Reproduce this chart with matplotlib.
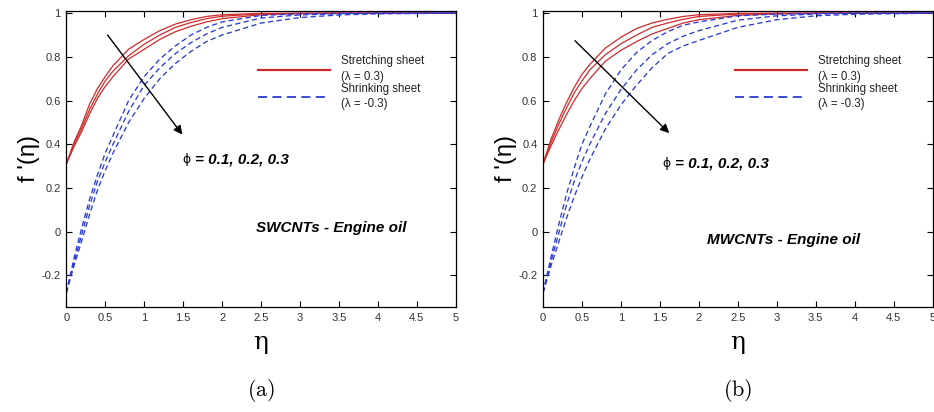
import matplotlib
matplotlib.use("Agg")
import matplotlib.pyplot as plt
from matplotlib.lines import Line2D

plt.rcParams['mathtext.fontset'] = 'cm'

# similarity variable
eta = [0, 0.1, 0.2, 0.3, 0.4, 0.5, 0.6, 0.8, 1.0, 1.2, 1.4, 1.6, 1.8, 2.0, 2.5, 3.0, 3.5, 4.0, 5.0]
phis = [0.1, 0.2, 0.3]

# f'(eta), SWCNTs - engine oil (one row per phi)
sw_stretch = [
    [0.31, 0.41, 0.49, 0.585, 0.655, 0.71, 0.76, 0.835, 0.88, 0.92, 0.95, 0.97, 0.985, 0.993, 0.999, 1.0, 1.0, 1.0, 1.0],
    [0.31, 0.40, 0.475, 0.56, 0.63, 0.69, 0.735, 0.805, 0.858, 0.90, 0.935, 0.957, 0.975, 0.986, 0.997, 0.999, 1.0, 1.0, 1.0],
    [0.31, 0.39, 0.46, 0.54, 0.61, 0.665, 0.71, 0.79, 0.835, 0.88, 0.915, 0.94, 0.96, 0.975, 0.993, 0.998, 0.999, 1.0, 1.0],
]
sw_shrink = [
    [-0.28, -0.12, 0.02, 0.15, 0.26, 0.36, 0.44, 0.60, 0.71, 0.79, 0.85, 0.90, 0.935, 0.96, 0.99, 0.997, 0.999, 1.0, 1.0],
    [-0.28, -0.14, -0.01, 0.12, 0.23, 0.32, 0.40, 0.55, 0.67, 0.75, 0.815, 0.865, 0.905, 0.935, 0.978, 0.992, 0.997, 0.999, 1.0],
    [-0.28, -0.155, -0.04, 0.08, 0.19, 0.28, 0.36, 0.50, 0.61, 0.70, 0.77, 0.825, 0.87, 0.90, 0.955, 0.98, 0.992, 0.997, 1.0],
]

# f'(eta), MWCNTs - engine oil
mw_stretch = [
    [0.31, 0.42, 0.51, 0.59, 0.66, 0.72, 0.765, 0.84, 0.89, 0.93, 0.955, 0.972, 0.985, 0.993, 0.999, 1.0, 1.0, 1.0, 1.0],
    [0.31, 0.405, 0.49, 0.565, 0.635, 0.69, 0.74, 0.81, 0.86, 0.90, 0.935, 0.955, 0.972, 0.985, 0.996, 0.999, 1.0, 1.0, 1.0],
    [0.31, 0.39, 0.465, 0.535, 0.60, 0.655, 0.70, 0.78, 0.83, 0.87, 0.905, 0.93, 0.955, 0.97, 0.99, 0.997, 0.999, 1.0, 1.0],
]
mw_shrink = [
    [-0.28, -0.12, 0.03, 0.17, 0.29, 0.40, 0.48, 0.63, 0.74, 0.82, 0.875, 0.915, 0.945, 0.96, 0.988, 0.996, 0.999, 1.0, 1.0],
    [-0.28, -0.14, -0.01, 0.12, 0.23, 0.32, 0.40, 0.54, 0.65, 0.74, 0.81, 0.86, 0.895, 0.92, 0.968, 0.988, 0.996, 0.999, 1.0],
    [-0.28, -0.16, -0.05, 0.06, 0.16, 0.25, 0.33, 0.47, 0.58, 0.67, 0.75, 0.815, 0.85, 0.875, 0.935, 0.97, 0.988, 0.995, 1.0],
]

x_ticks = [0, 0.5, 1, 1.5, 2, 2.5, 3, 3.5, 4, 4.5, 5]
x_ticklabels = ['0', '0.5', '1', '1.5', '2', '2.5', '3', '3.5', '4', '4.5', '5']
y_ticks = [-0.2, 0, 0.2, 0.4, 0.6, 0.8, 1]
y_ticklabels = ['-0.2', '0', '0.2', '0.4', '0.6', '0.8', '1']

RED = '#cc2b2b'
BLUE = '#2b3bd4'
SANS = 'Liberation Sans'

panels = [
    dict(stretch=sw_stretch, shrink=sw_shrink, name='SWCNTs - Engine oil', name_xy=(2.43, 0.018),
         arrow=((0.53, 0.90), (1.49, 0.444)), phi_xy=(1.49, 0.33), tag='(a)'),
    dict(stretch=mw_stretch, shrink=mw_shrink, name='MWCNTs - Engine oil', name_xy=(2.11, -0.04),
         arrow=((0.41, 0.874), (1.62, 0.451)), phi_xy=(1.53, 0.31), tag='(b)'),
]
lefts = [0.071, 0.5814]

fig = plt.figure(figsize=(9.34, 4.12), dpi=100)

for p, left in zip(panels, lefts):
    ax = fig.add_axes([left, 0.2549, 0.417, 0.7184])

    for row in p['stretch']:
        ax.plot(eta, row, '-', color=RED, lw=0.9)
    for row in p['shrink']:
        ax.plot(eta, row, '--', color=BLUE, lw=0.95, dashes=(4, 2.5))

    ax.set_xlim(0, 5)
    ax.set_ylim(-0.345, 1.01)
    ax.set_xticks(x_ticks)
    ax.set_xticklabels(x_ticklabels)
    ax.set_yticks(y_ticks)
    ax.set_yticklabels(y_ticklabels)
    ax.tick_params(direction='in', length=4, width=0.8, top=True, right=True,
                   labelsize=8, labelcolor='#333333', pad=4)
    for lab in ax.get_xticklabels() + ax.get_yticklabels():
        lab.set_family(SANS)
    for sp in ax.spines.values():
        sp.set_linewidth(0.9)

    ax.set_xlabel('η', family='DejaVu Serif', fontsize=18, labelpad=6)
    ax.set_ylabel("f '(η)", family=SANS, fontsize=17, labelpad=1)

    # trend arrow for increasing phi
    (x0, y0), (x1, y1) = p['arrow']
    ax.annotate('', xy=(x1, y1), xytext=(x0, y0),
                arrowprops=dict(arrowstyle='-|>', color='black', lw=1.0,
                                mutation_scale=13, shrinkA=0, shrinkB=0))
    px, py = p['phi_xy']
    ax.text(px, py, 'ϕ', family='DejaVu Sans', fontsize=9, va='center', ha='left')
    ax.text(px + 0.16, py, '= ' + ', '.join(str(v) for v in phis), family=SANS,
            fontsize=11, weight='bold', style='italic', va='center', ha='left')
    nx, ny = p['name_xy']
    ax.text(nx, ny, p['name'], family=SANS, fontsize=11, weight='bold',
            style='italic', va='center', ha='left')

    handles = [Line2D([], [], color=RED, lw=1.6),
               Line2D([], [], color=BLUE, lw=1.3, ls='--', dashes=(5, 3))]
    labels = ['Stretching sheet\n(λ = 0.3)', 'Shrinking sheet\n(λ = -0.3)']
    leg = ax.legend(handles, labels, loc='upper left', bbox_to_anchor=(0.48, 0.866),
                    frameon=False, handlelength=6.3, handletextpad=0.9,
                    labelspacing=0.0, borderaxespad=0,
                    prop={'family': SANS, 'size': 8.3})
    for t in leg.get_texts():
        t.set_color('#222222')
        t.set_linespacing(1.4)

    fig.text(left + 0.2085, 0.053, r'$\mathrm{' + p['tag'] + '}$', fontsize=16,
             ha='center', va='center')

fig.savefig('out.png', dpi=100)
